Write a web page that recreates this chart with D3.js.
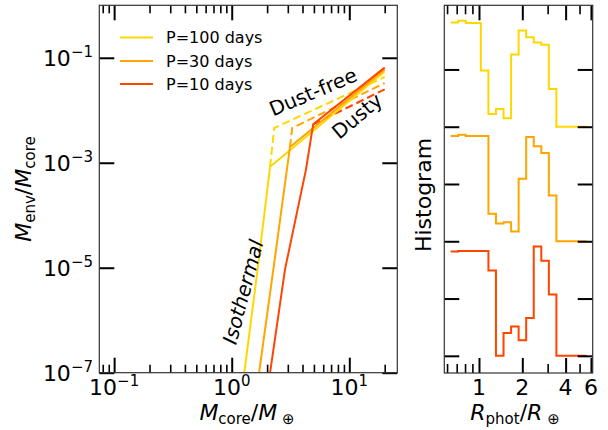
<!DOCTYPE html>
<html>
<head>
<meta charset="utf-8">
<script src="https://cdn.jsdelivr.net/npm/d3@7"></script>
<style>
  body { margin: 0; background: #fff; }
  svg { display: block; font-family: "DejaVu Sans", sans-serif; }
</style>
</head>
<body>
<svg id="chart" width="608" height="430"></svg>
<script>
// Orbital periods and their colours
const periods = ['P=100 days', 'P=30 days', 'P=10 days'];
const colors = ['#FFD700', '#FFA500', '#FF4500'];

// Dusty envelopes (isothermal part then dusty part)
const dustyMcore = [
  [1.28, 1.66, 2.12, 20],
  [1.71, 2.26, 3.13, 20],
  [2.12, 2.84, 4.28, 4.93, 20]
];
const dustyFenv = [
  [1e-7, 9.3e-6, 8.4e-4, 0.055],
  [1e-7, 9.3e-6, 2.0e-3, 0.060],
  [1e-7, 9.3e-6, 7.4e-4, 5.4e-3, 0.065]
];

// Dust-free envelopes
const dustFreeMcore = [
  [2.12, 2.30, 20],
  [3.13, 3.27, 20],
  [4.93, 20]
];
const dustFreeFenv = [
  [8.4e-4, 4.6e-3, 0.043],
  [2.0e-3, 4.6e-3, 0.033],
  [5.4e-3, 0.025]
];

// Histogram of photospheric radius (same bins for every period)
const binEdges = [0.635, 0.717, 0.809, 0.913, 1.03, 1.163, 1.312, 1.481, 1.671, 1.886,
  2.128, 2.402, 2.71, 3.059, 3.451, 3.895, 4.395, 4.961, 5.598];
const histP100 = [1.82, 1.85, 1.81, 1.81, 0.98, 0.22, 0.31, 0.15, 1.26, 1.68, 1.56, 1.47, 1.43, 0.66, 0, 0, 0, 0];
const histP30 = [1.84, 1.86, 1.84, 1.84, 1.84, 0.48, 0.31, 0.33, 0.17, 1.09, 1.82, 1.66, 1.54, 0.80, 0, 0, 0, 0];
const histP10 = [1.82, 1.83, 1.83, 1.83, 1.83, 1.49, 0, 0.40, 0.51, 0.27, 0.66, 1.91, 1.66, 1.07, 0, 0, 0, 0];
const histOffsets = [4, 2, 0];

// Ticks
const xMajor = [0.1, 1, 10];
const xMajorExp = ['−1', '0', '1'];
const xMinor = [0.08, 0.09, 0.2, 0.3, 0.4, 0.5, 0.6, 0.7, 0.8, 0.9, 2, 3, 4, 5, 6, 7, 8, 9, 20];
const yMajor = [1e-1, 1e-3, 1e-5, 1e-7];
const yMajorExp = ['−1', '−3', '−5', '−7'];
const rMajor = [1, 2, 4, 6];
const rMinor = [0.6, 0.7, 0.8, 0.9, 3, 5];
const hTicks = [0, 1, 2, 3, 4, 5];

const svg = d3.select('#chart');

// Left panel
const L = { left: 99.3, right: 397.3, top: 5.3, bottom: 372.7 };
const x = d3.scaleLog().domain([0.0748, 25.6]).range([L.left, L.right]);
const y = d3.scaleLog().domain([1e-7, 1]).range([L.bottom, L.top]);

// Right panel
const R = { left: 444.3, right: 592.7, top: 5.3, bottom: 373 };
const xr = d3.scaleLog().domain([0.574, 6.17]).range([R.left, R.right]);
const yr = d3.scaleLinear().domain([-0.3, 6.12]).range([R.bottom, R.top]);

svg.append('clipPath').attr('id', 'clipL')
  .append('rect').attr('x', L.left).attr('y', L.top)
  .attr('width', L.right - L.left).attr('height', L.bottom - L.top);

const lineL = d3.line().x(d => x(d[0])).y(d => y(d[1]));
const gLines = svg.append('g').attr('clip-path', 'url(#clipL)');

dustFreeMcore.forEach((ms, i) => {
  gLines.append('path')
    .attr('d', lineL(ms.map((m, j) => [m, dustFreeFenv[i][j]])))
    .attr('fill', 'none').attr('stroke', colors[i]).attr('stroke-width', 2)
    .attr('stroke-dasharray', '8,4');
});
dustyMcore.forEach((ms, i) => {
  gLines.append('path')
    .attr('d', lineL(ms.map((m, j) => [m, dustyFenv[i][j]])))
    .attr('fill', 'none').attr('stroke', colors[i]).attr('stroke-width', 2);
});

// Histograms as steps
const lineR = d3.line().x(d => xr(d[0])).y(d => yr(d[1]));
[histP100, histP30, histP10].forEach((h, i) => {
  const pts = [];
  h.forEach((v, k) => {
    pts.push([binEdges[k], v + histOffsets[i]]);
    pts.push([binEdges[k + 1], v + histOffsets[i]]);
  });
  svg.append('path')
    .attr('d', lineR(pts))
    .attr('fill', 'none').attr('stroke', colors[i]).attr('stroke-width', 2);
});

// Inward tick helper
function ticks(axisFn, scale, values, size, width, transform) {
  const g = svg.append('g').attr('transform', transform)
    .call(axisFn(scale).tickValues(values).tickSize(-size).tickFormat(''));
  g.select('.domain').remove();
  g.selectAll('line').attr('stroke', '#000').attr('stroke-width', width);
}

// Left panel ticks
ticks(d3.axisBottom, x, xMajor, 15, 2, `translate(0,${L.bottom})`);
ticks(d3.axisBottom, x, xMinor, 8, 1.6, `translate(0,${L.bottom})`);
ticks(d3.axisTop, x, xMajor, 15, 2, `translate(0,${L.top})`);
ticks(d3.axisTop, x, xMinor, 8, 1.6, `translate(0,${L.top})`);
ticks(d3.axisLeft, y, yMajor, 15, 2, `translate(${L.left},0)`);
ticks(d3.axisRight, y, yMajor, 15, 2, `translate(${L.right},0)`);

// Right panel ticks
ticks(d3.axisBottom, xr, rMajor, 15, 2, `translate(0,${R.bottom})`);
ticks(d3.axisBottom, xr, rMinor, 9, 1.6, `translate(0,${R.bottom})`);
ticks(d3.axisTop, xr, rMajor, 15, 2, `translate(0,${R.top})`);
ticks(d3.axisTop, xr, rMinor, 9, 1.6, `translate(0,${R.top})`);
ticks(d3.axisLeft, yr, hTicks, 15, 2, `translate(${R.left},0)`);
ticks(d3.axisRight, yr, hTicks, 15, 2, `translate(${R.right},0)`);

// Frames
[L, R].forEach(p => {
  svg.append('rect').attr('x', p.left).attr('y', p.top)
    .attr('width', p.right - p.left).attr('height', p.bottom - p.top)
    .attr('fill', 'none').attr('stroke', '#333').attr('stroke-width', 1.2);
});

// Tick labels
xMajor.forEach((v, i) => {
  const t = svg.append('text').attr('x', x(v)).attr('y', 395)
    .attr('text-anchor', 'middle').attr('font-size', 22);
  t.append('tspan').text('10');
  t.append('tspan').attr('font-size', 15).attr('dy', -9).text(xMajorExp[i]);
});
yMajor.forEach((v, i) => {
  const t = svg.append('text').attr('x', 93).attr('y', y(v) + 8)
    .attr('text-anchor', 'end').attr('font-size', 22);
  t.append('tspan').text('10');
  t.append('tspan').attr('font-size', 15).attr('dy', -9).text(yMajorExp[i]);
});
rMajor.forEach(v => {
  svg.append('text').attr('x', xr(v)).attr('y', 395)
    .attr('text-anchor', 'middle').attr('font-size', 22).text(v);
});

// Axis titles: italic letter with upright subscript
function mathTitle(t, parts) {
  parts.forEach(([m, sub], i) => {
    if (i > 0) t.append('tspan').attr('dy', -4).text('/');
    t.append('tspan').attr('font-style', 'italic').text(m);
    t.append('tspan').attr('font-size', 15).attr('dy', 4).text(sub);
  });
}
mathTitle(svg.append('text').attr('x', 247).attr('y', 420)
  .attr('text-anchor', 'middle').attr('font-size', 22), [['M', 'core'], ['M', ' ⊕']]);
mathTitle(svg.append('text').attr('transform', 'translate(31,189) rotate(-90)')
  .attr('text-anchor', 'middle').attr('font-size', 22), [['M', 'env'], ['M', 'core']]);
mathTitle(svg.append('text').attr('x', 515).attr('y', 420)
  .attr('text-anchor', 'middle').attr('font-size', 22), [['R', 'phot'], ['R', ' ⊕']]);

svg.append('text').attr('transform', 'translate(431,195) rotate(-90)')
  .attr('text-anchor', 'middle').attr('font-size', 22).text('Histogram');

// Annotations
svg.append('text').attr('transform', 'translate(313,92) rotate(-23)')
  .attr('text-anchor', 'middle').attr('dominant-baseline', 'central')
  .attr('font-size', 20).text('Dust-free');
svg.append('text').attr('transform', 'translate(357,116) rotate(-40)')
  .attr('text-anchor', 'middle').attr('dominant-baseline', 'central')
  .attr('font-size', 20).text('Dusty');
svg.append('text').attr('transform', 'translate(243,292) rotate(-75)')
  .attr('text-anchor', 'middle').attr('dominant-baseline', 'central')
  .attr('font-size', 20).attr('font-style', 'italic').text('Isothermal');

// Legend
periods.forEach((p, i) => {
  const ly = [37.5, 61, 84][i];
  svg.append('line').attr('x1', 120).attr('x2', 153).attr('y1', ly).attr('y2', ly)
    .attr('stroke', colors[i]).attr('stroke-width', 2);
  svg.append('text').attr('x', 166).attr('y', ly).attr('dominant-baseline', 'central')
    .attr('font-size', 16).text(p);
});
</script>
</body>
</html>
